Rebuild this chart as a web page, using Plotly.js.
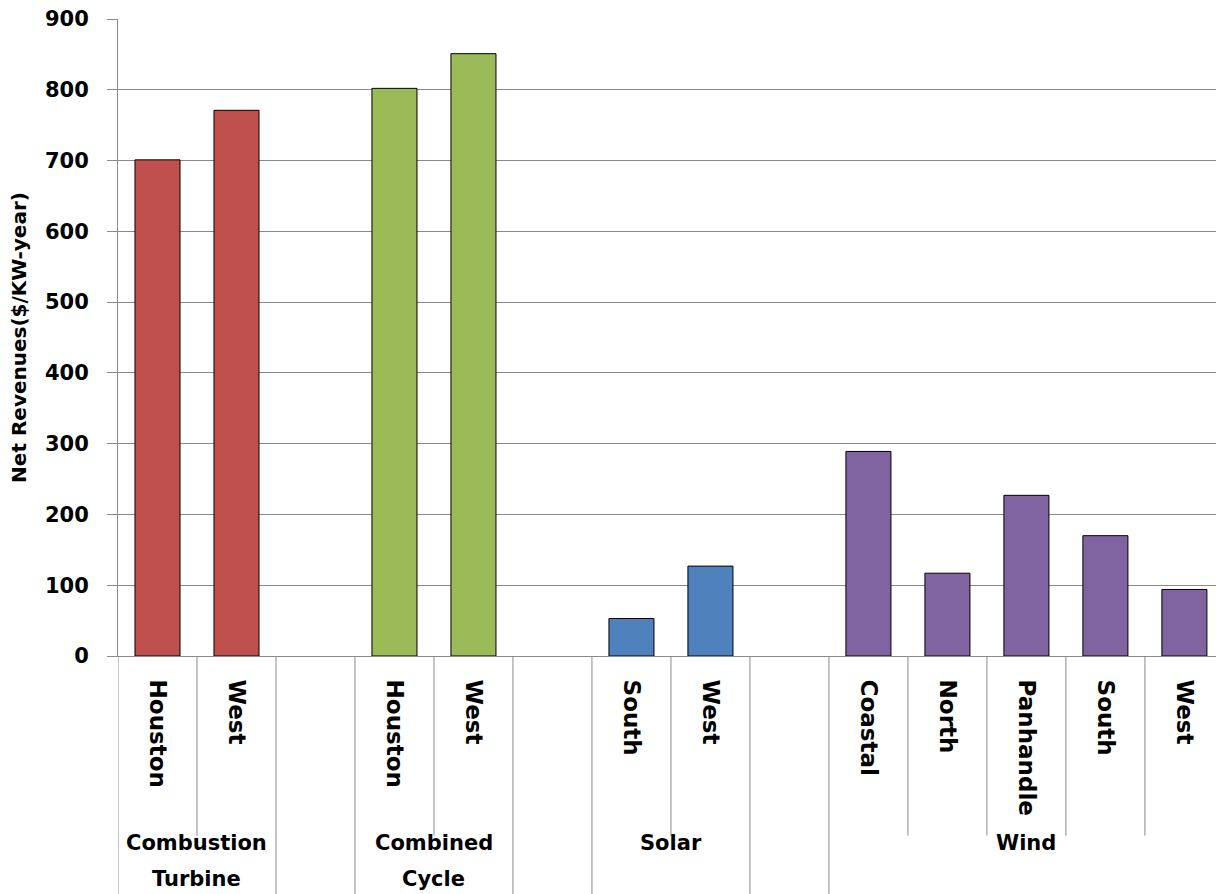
<!DOCTYPE html>
<html>
<head>
<meta charset="utf-8">
<script src="https://cdn.plot.ly/plotly-3.0.1.min.js"></script>
<style>html,body{margin:0;padding:0;background:#fff;}#chart{width:1216px;height:894px;}</style>
</head>
<body>
<div id="chart"></div>
<script>
// ---- data ----
const groupNames = ['Combustion<br>Turbine', 'Combined<br>Cycle', 'Solar', 'Wind'];
const ctRegions = ['Houston', 'West'];
const ctValues = [701, 771];
const ccRegions = ['Houston', 'West'];
const ccValues = [802, 851];
const solarRegions = ['South', 'West'];
const solarValues = [53, 127];
const windRegions = ['Coastal', 'North', 'Panhandle', 'South', 'West'];
const windValues = [289, 117, 227, 170, 94];
const groupColors = ['#C0504D', '#9BBB59', '#4F81BD', '#8064A2'];
const yTickVals = [0, 100, 200, 300, 400, 500, 600, 700, 800, 900];

const groupRegions = [ctRegions, ccRegions, solarRegions, windRegions];
const groupValues = [ctValues, ccValues, solarValues, windValues];

// ---- build positions (one blank slot between groups) ----
const FONT = 'DejaVu Sans, Verdana, sans-serif';
const gridColor = '#8A8A8A';
const traces = [];
const tickvals = [], ticktext = [];
const shapes = [], annotations = [];
const yShort = -0.282, yLong = -0.40;
const groupLineY = [-0.2936, -0.3501];
let pos = 0;
groupRegions.forEach((regs, g) => {
  const xs = regs.map((_, i) => pos + i);
  traces.push({
    type: 'bar', x: xs, y: groupValues[g],
    marker: {color: groupColors[g], line: {color: '#000000', width: 1}},
    hoverinfo: 'y', showlegend: false
  });
  xs.forEach((x, i) => { tickvals.push(x); ticktext.push(regs[i]); });
  const s = xs[0], e = xs[xs.length - 1];
  [s - 0.5, e + 0.5].forEach(b => shapes.push({type: 'line', xref: 'x', yref: 'paper', x0: b, x1: b, y0: 0, y1: yLong, line: {color: gridColor, width: 1}}));
  for (let i = 1; i < xs.length; i++) {
    const b = xs[i] - 0.5;
    shapes.push({type: 'line', xref: 'x', yref: 'paper', x0: b, x1: b, y0: 0, y1: yShort, line: {color: gridColor, width: 1}});
  }
  groupNames[g].split('<br>').forEach((line, li) => {
    annotations.push({
      xref: 'x', yref: 'paper', x: (s + e) / 2, y: groupLineY[li], yanchor: 'middle', xanchor: 'center',
      text: '<b>' + line + '</b>', showarrow: false,
      font: {family: FONT, size: 21, color: '#000'}
    });
  });
  pos = e + 2;
});

const layout = {
  width: 1216, height: 894,
  margin: {l: 118, r: 0, t: 19, b: 238},
  paper_bgcolor: '#ffffff', plot_bgcolor: '#ffffff',
  bargap: 0.43,
  xaxis: {
    range: [-0.5, 13.4], tickvals: tickvals, ticktext: ticktext.map(t => '<b>' + t + '</b>'),
    tickangle: 90, ticks: '', showgrid: false, zeroline: false,
    showline: true, linecolor: gridColor, linewidth: 1,
    ticklabelstandoff: 18,
    tickfont: {family: FONT, size: 23, color: '#000'}
  },
  yaxis: {
    range: [0, 900], tickmode: 'array', tickvals: yTickVals,
    ticktext: yTickVals.map(v => '<b>' + v + '</b>'),
    showgrid: true, gridcolor: gridColor, gridwidth: 1,
    zeroline: false, showline: true, linecolor: gridColor, linewidth: 1,
    ticks: 'outside', ticklen: 10, tickcolor: gridColor, ticklabelstandoff: 14,
    tickfont: {family: FONT, size: 21, color: '#000'},
    title: {text: '<b>Net Revenues($/KW-year)</b>', font: {family: FONT, size: 20, color: '#000'}, standoff: 12}
  },
  shapes: shapes,
  annotations: annotations
};

Plotly.newPlot('chart', traces, layout, {displayModeBar: false, staticPlot: true});
</script>
</body>
</html>
